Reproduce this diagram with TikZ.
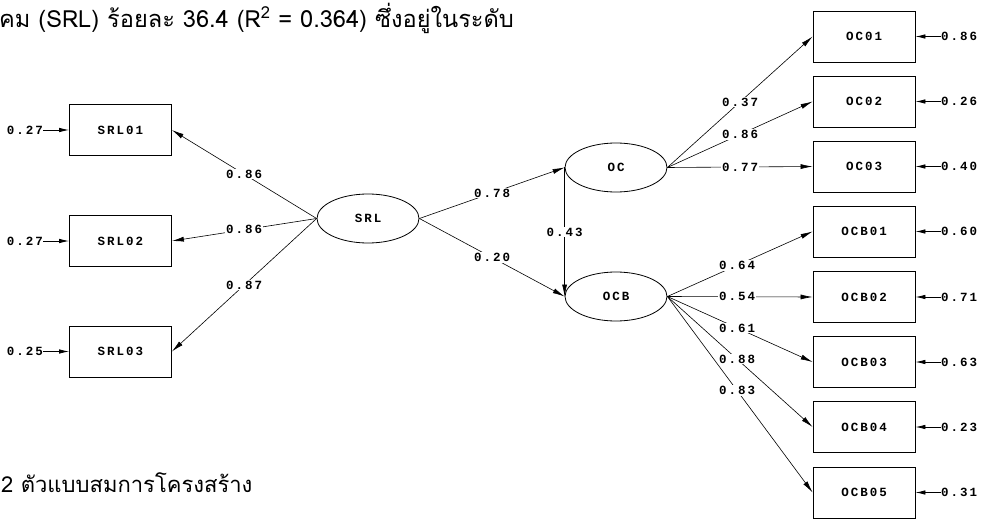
\documentclass[tikz,border=0pt]{standalone}
\usepackage{fontspec}
\usetikzlibrary{arrows.meta,shapes.geometric}
\newfontfamily\thaifont[Script=Thai]{Loma}
\newfontfamily\lisfont[LetterSpace=16]{Liberation Mono}
\begin{document}
\begin{tikzpicture}[x=1pt,y=-1pt,
  lis/.style={font=\lisfont\bfseries\fontsize{12.5}{12.5}\selectfont},
  obs/.style={draw,lis,minimum width=102pt,minimum height=51pt,inner sep=0pt,line width=0.8pt},
  lat/.style={draw,ellipse,lis,minimum width=102pt,minimum height=49pt,inner sep=0pt,line width=0.8pt},
  lnk/.style={-{Latex[length=12pt,width=5pt]},line width=0.6pt},
  err/.style={-{Latex[length=10pt,width=4.5pt]},line width=0.8pt},
  coef/.style={lis,fill=white,inner sep=1pt},
  errlab/.style={lis,inner sep=0pt}
]
\path[use as bounding box] (0,0) rectangle (983,524);
% texts
\node[anchor=base west,inner sep=0pt,font=\thaifont\fontsize{23.6}{23.6}\selectfont] (toptext) at (-1,28) {คม (SRL) ร้อยละ 36.4 (R\textsuperscript{2} = 0.364) ซึ่งอยู่ในระดับ};
\node[anchor=base west,inner sep=0pt,font=\thaifont\fontsize{22}{22}\selectfont] (caption) at (1,492) {2 ตัวแบบสมการโครงสร้าง};
% left observed
\node[obs] (srl1) at (120.5,130) {SRL01};
\node[obs] (srl2) at (120.5,241) {SRL02};
\node[obs] (srl3) at (120.5,351.5) {SRL03};
% latent
\node[lat] (srl) at (368,218.5) {SRL};
\node[lat] (oc) at (616,167.5) {OC};
\node[lat] (ocb) at (616,296.5) {OCB};
% right observed
\node[obs] (oc1) at (864,36.5) {OC01};
\node[obs] (oc2) at (864,101.5) {OC02};
\node[obs] (oc3) at (864,166.5) {OC03};
\node[obs] (ocb1) at (864,231.5) {OCB01};
\node[obs] (ocb2) at (864,297) {OCB02};
\node[obs] (ocb3) at (864,362) {OCB03};
\node[obs] (ocb4) at (864,427) {OCB04};
\node[obs] (ocb5) at (864,492.5) {OCB05};
% error terms left
\node[errlab,anchor=east] (e1) at (43,130) {0.27};
\node[errlab,anchor=east] (e2) at (43,241) {0.27};
\node[errlab,anchor=east] (e3) at (43,351.5) {0.25};
\draw[err] (e1.east) -- (srl1.west);
\draw[err] (e2.east) -- (srl2.west);
\draw[err] (e3.east) -- (srl3.west);
% error terms right
\node[errlab,anchor=west] (r1) at (941,36.5) {0.86};
\node[errlab,anchor=west] (r2) at (941,101.5) {0.26};
\node[errlab,anchor=west] (r3) at (941,166.5) {0.40};
\node[errlab,anchor=west] (r4) at (941,231.5) {0.60};
\node[errlab,anchor=west] (r5) at (941,297) {0.71};
\node[errlab,anchor=west] (r6) at (941,362) {0.63};
\node[errlab,anchor=west] (r7) at (941,427) {0.23};
\node[errlab,anchor=west] (r8) at (941,492.5) {0.31};
\foreach \a/\b in {r1/oc1,r2/oc2,r3/oc3,r4/ocb1,r5/ocb2,r6/ocb3,r7/ocb4,r8/ocb5}
  \draw[err] (\a.west) -- (\b.east);
% loadings SRL
\draw[lnk] (srl.west) -- node[coef,pos=0.5] {0.86} (srl1.east);
\draw[lnk] (srl.west) -- node[coef,pos=0.5] {0.86} (srl2.east);
\draw[lnk] (srl.west) -- node[coef,pos=0.5] {0.87} (srl3.east);
% structural
\draw[lnk] (srl.east) -- node[coef,pos=0.5] {0.78} (oc.west);
\draw[lnk] (srl.east) -- node[coef,pos=0.5] {0.20} (ocb.west);
\draw[lnk] (oc.west) -- node[coef,pos=0.5] {0.43} (ocb.west);
% loadings OC
\draw[lnk] (oc.east) -- node[coef,pos=0.5] {0.37} (oc1.west);
\draw[lnk] (oc.east) -- node[coef,pos=0.5] {0.86} (oc2.west);
\draw[lnk] (oc.east) -- node[coef,pos=0.5] {0.77} (oc3.west);
% loadings OCB
\draw[lnk] (ocb.east) -- node[coef,pos=0.48] {0.64} (ocb1.west);
\draw[lnk] (ocb.east) -- node[coef,pos=0.48] {0.54} (ocb2.west);
\draw[lnk] (ocb.east) -- node[coef,pos=0.48] {0.61} (ocb3.west);
\draw[lnk] (ocb.east) -- node[coef,pos=0.48] {0.88} (ocb4.west);
\draw[lnk] (ocb.east) -- node[coef,pos=0.48] {0.83} (ocb5.west);
\end{tikzpicture}
\end{document}
